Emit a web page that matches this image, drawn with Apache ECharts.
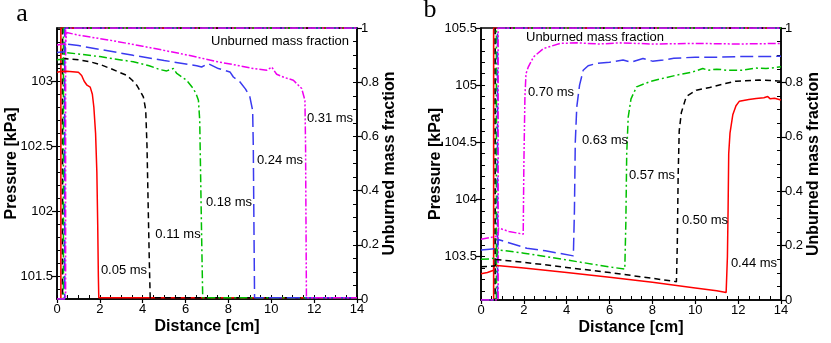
<!DOCTYPE html>
<html><head><meta charset="utf-8">
<script src="https://cdn.jsdelivr.net/npm/echarts@6/dist/echarts.min.js"></script>
<style>html,body{margin:0;padding:0;background:#fff}#c{width:831px;height:343px}</style>
</head><body><div id="c"></div>
<script>
// ---------------- data ----------------
const timesA = ['0.05 ms', '0.11 ms', '0.18 ms', '0.24 ms', '0.31 ms'];
const timesB = ['0.44 ms', '0.50 ms', '0.57 ms', '0.63 ms', '0.70 ms'];

// panel a: pressure [kPa] vs distance [cm]
const pressA005 = [[0,103.07],[0.18,103.075],[0.45,103.078],[1.0,103.07],[1.15,103.045],[1.27,103.0],[1.4,102.97],[1.55,102.955],[1.65,102.9],[1.72,102.8],[1.8,102.6],[1.86,102.3],[1.9,101.9],[1.93,101.5],[1.95,101.335],[14,101.335]];
const pressA011 = [[0,103.13],[0.26,103.135],[0.3,103.175],[1.0,103.165],[1.54,103.15],[2.0,103.13],[2.47,103.10],[2.9,103.07],[3.25,103.046],[3.5,103.01],[3.72,102.97],[3.9,102.92],[4.03,102.88],[4.14,102.78],[4.2,102.5],[4.26,102.0],[4.31,101.6],[4.35,101.335],[14,101.335]];
const pressA018 = [[0,103.165],[0.3,103.17],[0.35,103.222],[1.0,103.21],[2.0,103.19],[3.56,103.15],[4.3,103.12],[4.8,103.09],[5.12,103.08],[5.43,103.098],[5.59,103.06],[6.05,103.008],[6.36,102.944],[6.5,102.9],[6.6,102.854],[6.66,102.7],[6.7,102.3],[6.75,101.8],[6.8,101.335],[14,101.335]];
const pressA024 = [[0,103.222],[0.36,103.228],[0.4,103.287],[1.0,103.275],[2.0,103.245],[3.55,103.2],[5.0,103.16],[6.52,103.12],[6.75,103.11],[7.06,103.136],[7.53,103.098],[8.07,103.072],[8.23,103.033],[8.54,102.995],[8.8,102.94],[9.0,102.88],[9.13,102.776],[9.16,102.5],[9.19,101.9],[9.22,101.335],[14,101.335]];
const pressA031 = [[0,103.28],[0.4,103.29],[0.45,103.375],[1.0,103.355],[2.47,103.316],[4.0,103.27],[6.0,103.205],[7.5,103.15],[8.5,103.12],[9.16,103.098],[9.79,103.085],[10.02,103.11],[10.25,103.054],[10.6,103.03],[11.03,103.008],[11.42,102.944],[11.57,102.854],[11.6,102.5],[11.62,101.9],[11.64,101.335],[14,101.335]];

// panel b: pressure [kPa] vs distance [cm]
const pressB044 = [[0,103.35],[0.3,103.36],[0.59,103.38],[0.62,103.425],[2,103.4],[4,103.36],[6,103.32],[8,103.275],[10,103.225],[11.0,103.2],[11.44,103.185],[11.5,103.5],[11.53,103.9],[11.56,104.4],[11.62,104.58],[11.75,104.74],[11.9,104.82],[12.06,104.86],[12.5,104.875],[12.84,104.884],[13.2,104.89],[13.38,104.9],[13.5,104.88],[13.7,104.885],[14,104.87]];
const pressB050 = [[0,103.41],[0.4,103.415],[0.66,103.42],[0.7,103.475],[2,103.45],[4,103.405],[6,103.36],[8,103.31],[9.12,103.28],[9.16,103.6],[9.2,104.2],[9.25,104.6],[9.35,104.76],[9.58,104.9],[10.05,104.956],[10.67,104.98],[11.3,105.01],[11.9,105.035],[12.99,105.044],[13.5,105.04],[14,105.035]];
const pressB057 = [[0,103.477],[0.4,103.48],[0.72,103.49],[0.76,103.56],[2,103.53],[4,103.47],[6,103.41],[6.71,103.39],[6.76,103.8],[6.8,104.4],[6.87,104.72],[7.0,104.88],[7.26,104.985],[7.87,105.03],[8.5,105.06],[9.12,105.087],[9.89,105.116],[10.35,105.146],[10.6,105.13],[11.0,105.14],[11.5,105.13],[12.21,105.13],[12.8,105.15],[13.3,105.145],[14,105.16]];
const pressB063 = [[0,103.558],[0.4,103.565],[0.77,103.57],[0.8,103.65],[2.14,103.573],[3,103.55],[4.31,103.506],[4.36,103.9],[4.4,104.5],[4.47,104.81],[4.6,105.0],[4.77,105.13],[5.0,105.17],[5.4,105.19],[6.0,105.2],[6.63,105.22],[7.0,105.2],[7.56,105.233],[8.0,105.21],[8.5,105.22],[9.0,105.235],[10.0,105.245],[11,105.245],[12,105.25],[13,105.25],[14,105.253]];
const pressB070 = [[0,103.652],[0.4,103.665],[0.8,103.68],[0.82,103.75],[1.3,103.72],[1.97,103.696],[2.0,104.3],[2.05,104.9],[2.1,105.1],[2.21,105.16],[2.45,105.247],[2.91,105.32],[3.69,105.365],[4.5,105.37],[5.5,105.36],[6.5,105.37],[8,105.36],[10,105.365],[12,105.36],[14,105.365]];

// flame position (unburned mass fraction steps 0 -> 1) [cm]
const flameA = [0.18, 0.26, 0.30, 0.36, 0.40];
const flameB = [0.59, 0.66, 0.72, 0.77, 0.80];

// ticks
const distTicks = [0,2,4,6,8,10,12,14];
const distMinor = [0,0.5,1,1.5,2,2.5,3,3.5,4,4.5,5,5.5,6,6.5,7,7.5,8,8.5,9,9.5,10,10.5,11,11.5,12,12.5,13,13.5,14];
const pressTicksA = [101.5,102,102.5,103];
const pressMinorA = [101.4,101.5,101.6,101.7,101.8,101.9,102,102.1,102.2,102.3,102.4,102.5,102.6,102.7,102.8,102.9,103,103.1,103.2,103.3,103.4];
const pressTicksB = [103.5,104,104.5,105,105.5];
const pressMinorB = [103.2,103.3,103.4,103.5,103.6,103.7,103.8,103.9,104,104.1,104.2,104.3,104.4,104.5,104.6,104.7,104.8,104.9,105,105.1,105.2,105.3,105.4];
const fracTicks = [0,0.2,0.4,0.6,0.8,1];
const fracMinor = [0.05,0.1,0.15,0.2,0.25,0.3,0.35,0.4,0.45,0.5,0.55,0.6,0.65,0.7,0.75,0.8,0.85,0.9,0.95];

// ---------------- styles ----------------
const FONT = 'Liberation Sans, Arial, Helvetica, sans-serif';
const colors = ['#ff0000', '#000000', '#00c000', '#3a3af0', '#f000f0'];
const dashes = ['solid', [6,4], [8,3,2,3], [13,5], [8,2,2,2,2,2]];
const pressA = [pressA005, pressA011, pressA018, pressA024, pressA031];
const pressB = [pressB044, pressB050, pressB057, pressB063, pressB070];

function stepData(xf) { return [[0,0],[xf,0],[xf,1],[14,1]]; }

function mainX(gi) {
  return {
    gridIndex: gi, type: 'value', min: 0, max: 14, interval: 2,
    name: 'Distance [cm]', nameLocation: 'middle', nameGap: 20, nameMoveOverlap: false,
    nameTextStyle: {fontFamily: FONT, fontSize: 16, fontWeight: 'bold', color: '#000'},
    axisLine: {show: true, onZero: false, lineStyle: {color: '#000', width: 1.5}},
    axisTick: {show: true, inside: false, length: 4, lineStyle: {color: '#000', width: 1.2}, customValues: distTicks},
    axisLabel: {fontFamily: FONT, fontSize: 13, color: '#000', margin: 4, customValues: distTicks},
    splitLine: {show: false}
  };
}
function minorX(gi) {
  return {
    gridIndex: gi, type: 'value', min: 0, max: 14, position: 'bottom',
    axisLine: {show: false, onZero: false},
    axisTick: {show: true, inside: true, length: 4, lineStyle: {color: '#000', width: 1}, customValues: distMinor},
    axisLabel: {show: false}, splitLine: {show: false}
  };
}
function mainY(gi, pos, min, max, ticks, name, gap) {
  return {
    gridIndex: gi, type: 'value', position: pos, min: min, max: max,
    name: name, nameLocation: 'middle', nameGap: gap, nameRotate: 90, nameMoveOverlap: false,
    nameTextStyle: {fontFamily: FONT, fontSize: 16, fontWeight: 'bold', color: '#000'},
    axisLine: {show: true, onZero: false, lineStyle: {color: '#000', width: 1.5}},
    axisTick: {show: true, inside: false, length: 5, lineStyle: {color: '#000', width: 1.2}, customValues: ticks},
    axisLabel: {fontFamily: FONT, fontSize: 13, color: '#000', margin: 4, customValues: ticks},
    splitLine: {show: false}
  };
}
function minorY(gi, pos, min, max, ticks) {
  return {
    gridIndex: gi, type: 'value', position: pos, min: min, max: max,
    axisLine: {show: false, onZero: false},
    axisTick: {show: true, inside: true, length: 4, lineStyle: {color: '#000', width: 1}, customValues: ticks},
    axisLabel: {show: false}, splitLine: {show: false}
  };
}

const series = [];
function addPanel(xi, yP, yF, press, flames, times) {
  for (let i = 0; i < 5; i++) {
    series.push({
      name: 'frac ' + times[i], type: 'line', xAxisIndex: xi, yAxisIndex: yF,
      data: stepData(flames[i]), showSymbol: false, symbol: 'none', silent: true,
      lineStyle: {color: colors[i], width: 1.6, type: dashes[i]}, z: 2
    });
  }
  for (let i = 0; i < 5; i++) {
    series.push({
      name: times[i], type: 'line', xAxisIndex: xi, yAxisIndex: yP,
      data: press[i], showSymbol: false, symbol: 'none', silent: true,
      lineStyle: {color: colors[i], width: 1.5, type: dashes[i]}, z: 3
    });
  }
}
addPanel(0, 0, 2, pressA, flameA, timesA);
addPanel(2, 4, 6, pressB, flameB, timesB);

function txt(s, x, y, opts) {
  return Object.assign({type: 'text', x: x, y: y, silent: true, z: 100,
    style: Object.assign({text: s, fill: '#000', font: '13px ' + FONT, align: 'center', verticalAlign: 'middle'}, opts || {})});
}

const labelPosA = [[124,270],[178,234],[229,202],[280,160],[330,118]];
const labelPosB = [[754,263],[705,220],[652,175],[605,140],[551,92]];
const graphics = [
  txt('a', 22, 14, {font: '26px Liberation Serif, Times New Roman, serif'}),
  txt('b', 430, 10, {font: '26px Liberation Serif, Times New Roman, serif'}),
  txt('Unburned mass fraction', 280, 41),
  txt('Unburned mass fraction', 595, 37)
];
timesA.forEach((t, i) => graphics.push(txt(t, labelPosA[i][0], labelPosA[i][1])));
timesB.forEach((t, i) => graphics.push(txt(t, labelPosB[i][0], labelPosB[i][1])));

const option = {
  animation: false,
  backgroundColor: '#fff',
  grid: [
    {left: 57, right: 474, top: 28, bottom: 44, show: true, borderColor: '#000', borderWidth: 1.5, backgroundColor: 'transparent'},
    {left: 481, right: 50, top: 28, bottom: 43, show: true, borderColor: '#000', borderWidth: 1.5, backgroundColor: 'transparent'}
  ],
  xAxis: [mainX(0), minorX(0), mainX(1), minorX(1)],
  yAxis: [
    mainY(0, 'left', 101.325, 103.41, pressTicksA, 'Pressure [kPa]', 37),
    minorY(0, 'left', 101.325, 103.41, pressMinorA),
    mainY(0, 'right', 0, 1, fracTicks, 'Unburned mass fraction', 25),
    minorY(0, 'right', 0, 1, fracMinor),
    mainY(1, 'left', 103.12, 105.5, pressTicksB, 'Pressure [kPa]', 37),
    minorY(1, 'left', 103.12, 105.5, pressMinorB),
    mainY(1, 'right', 0, 1, fracTicks, 'Unburned mass fraction', 25),
    minorY(1, 'right', 0, 1, fracMinor)
  ],
  series: series,
  graphic: graphics
};

const chart = echarts.init(document.getElementById('c'), null, {renderer: 'canvas'});
chart.setOption(option);
</script>
</body></html>
